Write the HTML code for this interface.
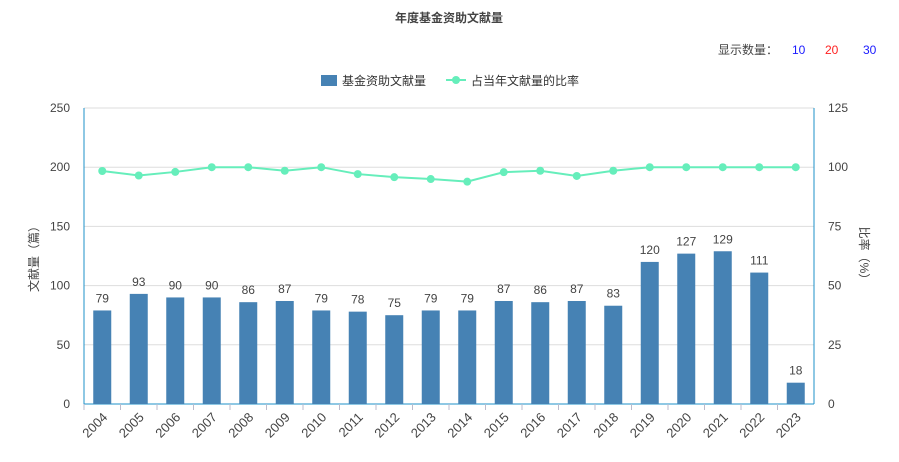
<!DOCTYPE html>
<html><head><meta charset="utf-8"><style>
body{margin:0;background:#fff;font-family:"Liberation Sans","Noto Sans CJK SC",sans-serif;}
svg text{font-family:"Liberation Sans","Noto Sans CJK SC",sans-serif;}
</style></head><body>
<svg id="c" width="899" height="457">
<text x="449" y="22" text-anchor="middle" font-size="12" font-weight="bold" fill="#444">年度基金资助文献量</text>
<text x="718" y="54" font-size="12" fill="#444">显示数量：</text>
<text x="792" y="54" font-size="12" fill="#1a1aff">10</text>
<text x="825" y="54" font-size="12" fill="#ff2020">20</text>
<text x="863" y="54" font-size="12" fill="#1a1aff">30</text>
<g>
<rect x="321" y="75" width="16" height="11" fill="#4682b4"/>
<text x="342" y="85" font-size="12" fill="#333">基金资助文献量</text>
<line x1="446" y1="80" x2="466" y2="80" stroke="#66eebb" stroke-width="2"/>
<circle cx="456" cy="80" r="4" fill="#66eebb"/>
<text x="471" y="85" font-size="12" fill="#333">占当年文献量的比率</text>
</g>
<text transform="translate(38,256) rotate(-90)" text-anchor="middle" font-size="12" fill="#444">文献量（篇）</text>
<text transform="translate(860,256) rotate(90)" text-anchor="middle" font-size="12" fill="#444">比率（%）</text>
<g id="g"></g>
</svg>
<script>
const categories=["2004","2005","2006","2007","2008","2009","2010","2011","2012","2013","2014","2015","2016","2017","2018","2019","2020","2021","2022","2023"];
const counts=[79,93,90,90,86,87,79,78,75,79,79,87,86,87,83,120,127,129,111,18];
const ratios=[98.4,96.5,98,100,100,98.5,100,97.1,95.8,95,93.9,97.9,98.5,96.3,98.5,100,100,100,100,100];
const leftTicks=[0,50,100,150,200,250];
const rightTicks=[0,25,50,75,100,125];
const X0=84,X1=814,Y0=404,Y1=108;
const band=(X1-X0)/categories.length;
const xc=i=>X0+band*(i+0.5);
const yl=v=>Y0-(v/250)*(Y0-Y1);
const yr=v=>Y0-(v/125)*(Y0-Y1);
const g=document.getElementById('g');
const NS='http://www.w3.org/2000/svg';
function mk(t,a){const e=document.createElementNS(NS,t);for(const k in a)e.setAttribute(k,a[k]);g.appendChild(e);return e;}
leftTicks.forEach((t,i)=>{
 if(t>0){const l=mk('line',{x1:X0,x2:X1,y1:yl(t),y2:yl(t),stroke:'#ddd'});
 
 }
 const a=mk('text',{x:X0-14,y:yl(t)+4,'text-anchor':'end','font-size':12,fill:'#444'});a.textContent=t;
 
 
 const b=mk('text',{x:X1+14,y:yr(rightTicks[i])+4,'font-size':12,fill:'#444'});b.textContent=rightTicks[i];
 
 
});
const al=mk('line',{x1:X0,x2:X0,y1:Y1,y2:Y0,stroke:'#1e90c8'});


const ar=mk('line',{x1:X1,x2:X1,y1:Y1,y2:Y0,stroke:'#1e90c8'});


const ax=mk('line',{x1:X0,x2:X1,y1:Y0,y2:Y0,stroke:'#1e90c8'});


categories.forEach((c,i)=>{
 const tk=mk('line',{x1:X0+band*i,x2:X0+band*i,y1:Y0,y2:Y0+6,stroke:'#bbc'});
 
 
 const v=counts[i];
 const r=mk('rect',{x:xc(i)-9,y:yl(v),width:18,height:Y0-yl(v),fill:'#4682b4'});
 
 
 const t=mk('text',{x:xc(i),y:yl(v)-8,'text-anchor':'middle','font-size':12,fill:'#444'});t.textContent=v;
 
 
 const xl=mk('text',{transform:`translate(${xc(i)+6},${Y0+14}) rotate(-45)`,'text-anchor':'end','font-size':13,fill:'#444'});xl.textContent=c;
 
 
});
const p=mk('polyline',{points:ratios.map((v,i)=>xc(i)+','+yr(v)).join(' '),fill:'none',stroke:'#66eebb','stroke-width':2});


ratios.forEach((v,i)=>{
 const c=mk('circle',{cx:xc(i),cy:yr(v),r:4,fill:'#66eebb'});
 
 
});
</script>
</body></html>
